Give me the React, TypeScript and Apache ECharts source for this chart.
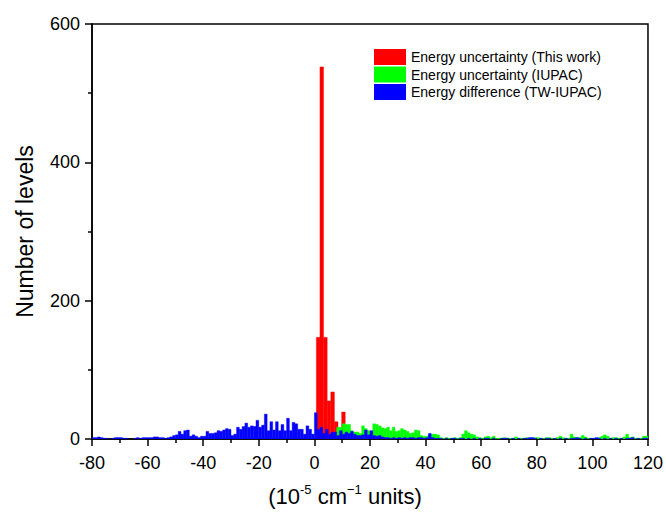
import React, { useEffect, useRef } from "react";
import * as echarts from "echarts";

// Histogram data (counts per bin)
const blueStart = -80; // Energy difference (TW-IUPAC), 1-unit bins
const blueBinWidth = 1;
const blueCounts = [
  2, 2, 3, 2, 1, 1, 0, 1, 2, 2,
  2, 1, 1, 0, 0, 1, 2, 1, 2, 2,
  2, 2, 3, 3, 2, 2, 1, 2, 3, 5,
  6, 11, 7, 12, 13, 4, 6, 4, 2, 4,
  4, 11, 8, 8, 9, 12, 11, 13, 15, 14,
  5, 7, 17, 14, 18, 23, 17, 19, 18, 27,
  17, 20, 36, 12, 25, 13, 25, 12, 21, 12,
  30, 12, 24, 22, 14, 14, 7, 19, 14, 7,
  38, 14, 17, 8, 14, 7, 10, 10, 5, 12,
  7, 10, 8, 11, 7, 5, 5, 6, 13, 6,
  12, 5, 4, 5, 3, 2, 2, 1, 2, 1,
  2, 1, 2, 1, 2, 2, 1, 2, 2, 1,
  2, 8, 2, 1, 1, 1, 0, 1, 0, 1,
  1, 0, 1, 1, 0, 1, 0, 1, 0, 1,
  0, 1, 1, 0, 1, 0, 0, 1, 1, 1,
  0, 1, 0, 1, 0, 1, 1, 2, 2, 1,
  0, 1, 0, 1, 1, 0, 1, 0, 1, 0,
  1, 0, 1, 1, 2, 1, 0, 1, 0, 1,
  1, 2, 1, 0, 1, 0, 1, 0, 1, 0,
  1, 0, 1, 1, 2, 0, 1, 0, 1, 1,
];

const greenStart = 6; // Energy uncertainty (IUPAC), 1-unit bins
const greenBinWidth = 1;
const greenCounts = [
  3, 8, 17, 17,
  22, 21, 21, 12, 10, 10, 8, 19, 15, 12,
  10, 22, 21, 19, 16, 15, 17, 12, 17, 11,
  12, 15, 13, 11, 8, 9, 13, 12, 5, 4,
  4, 6, 7, 7, 6, 2, 1, 2, 1, 1,
  2, 1, 2, 7, 12, 9, 7, 6, 3, 2,
  1, 3, 4, 2, 4, 1, 1, 1, 2, 1,
  1, 1, 3, 1, 1, 1, 2, 1, 1, 2,
  2, 1, 1, 2, 2, 1, 1, 2, 4, 2,
  1, 1, 7, 3, 2, 2, 5, 3, 1, 1,
  1, 1, 2, 4, 6, 4, 1, 2, 2, 1,
  1, 3, 7, 2, 3, 1, 1, 1, 4, 4,
];

const redStart = 0.7; // Energy uncertainty (This work)
const redBinWidth = 1.3;
const redCounts = [147, 538, 147, 55, 68, 25, 5, 39, 3];

const seriesNames = [
  "Energy uncertainty (This work)",
  "Energy uncertainty (IUPAC)",
  "Energy difference (TW-IUPAC)",
];
const seriesColors = ["#FF0000", "#00FF00", "#0000FF"];

const xMin = -80;
const xMax = 120;
const xInterval = 20;
const yMin = 0;
const yMax = 600;
const yInterval = 200;

const FONT = 'Arial, "Liberation Sans", sans-serif';

function toBins(start: number, width: number, counts: number[]) {
  return counts
    .map((c, i) => [start + i * width, start + (i + 1) * width, c])
    .filter((d) => d[2] > 0);
}

function makeRender(color: string) {
  return (_params: any, api: any) => {
    const x0 = api.value(0);
    const x1 = api.value(1);
    const y = api.value(2);
    const p0 = api.coord([x0, y]);
    const p1 = api.coord([x1, 0]);
    return {
      type: "rect",
      shape: { x: p0[0], y: p0[1], width: p1[0] - p0[0], height: p1[1] - p0[1] },
      style: { fill: color, stroke: color, lineWidth: 0.4 },
    };
  };
}

export default function App() {
  const ref = useRef<HTMLDivElement>(null);

  useEffect(() => {
    if (!ref.current) return;
    const chart = echarts.init(ref.current, undefined, { renderer: "svg" });
    const datasets = [
      toBins(redStart, redBinWidth, redCounts),
      toBins(greenStart, greenBinWidth, greenCounts),
      toBins(blueStart, blueBinWidth, blueCounts),
    ];
    chart.setOption({
      animation: false,
      backgroundColor: "#ffffff",
      textStyle: { fontFamily: FONT },
      grid: {
        left: 92,
        right: 16,
        top: 24,
        bottom: 72,
        show: true,
        borderColor: "#000",
        borderWidth: 1.5,
        backgroundColor: "transparent",
      },
      legend: {
        orient: "vertical",
        left: 374,
        top: 49,
        padding: 0,
        itemWidth: 32,
        itemHeight: 16,
        itemGap: 1.5,
        textStyle: { fontFamily: FONT, fontSize: 14, color: "#000" },
        data: seriesNames.map((n) => ({ name: n, icon: "rect" })),
      },
      xAxis: {
        type: "value",
        min: xMin,
        max: xMax,
        interval: xInterval,
        name: "{n|(10}{sup|-5}{n| cm}{sup|−1}{n| units)}",
        nameLocation: "middle",
        nameGap: 44,
        nameTextStyle: {
          fontFamily: FONT,
          fontSize: 22,
          color: "#000",
          padding: [0, 50, 0, 0],
          rich: {
            n: { fontFamily: FONT, fontSize: 22, lineHeight: 26, color: "#000" },
            sup: { fontFamily: FONT, fontSize: 13, lineHeight: 13, color: "#000", verticalAlign: "top" },
          },
        },
        axisLine: { show: true, onZero: false, lineStyle: { color: "#000", width: 1.5 } },
        axisTick: { show: true, length: 7, lineStyle: { color: "#000", width: 1.5 } },
        minorTick: { show: true, splitNumber: 2, length: 4, lineStyle: { color: "#000", width: 1.5 } },
        axisLabel: { fontFamily: FONT, fontSize: 18, color: "#000", margin: 15 },
        splitLine: { show: false },
      },
      yAxis: {
        type: "value",
        min: yMin,
        max: yMax,
        interval: yInterval,
        name: "Number of levels",
        nameLocation: "middle",
        nameGap: 56,
        nameTextStyle: { fontFamily: FONT, fontSize: 23, color: "#000" },
        axisLine: { show: true, onZero: false, lineStyle: { color: "#000", width: 1.5 } },
        axisTick: { show: true, length: 7, lineStyle: { color: "#000", width: 1.5 } },
        minorTick: { show: true, splitNumber: 2, length: 4, lineStyle: { color: "#000", width: 1.5 } },
        axisLabel: { fontFamily: FONT, fontSize: 18, color: "#000", margin: 12 },
        splitLine: { show: false },
      },
      series: seriesNames.map((name, i) => ({
        name,
        type: "custom",
        renderItem: makeRender(seriesColors[i]),
        itemStyle: { color: seriesColors[i] },
        encode: { x: [0, 1], y: 2 },
        data: datasets[i],
        clip: true,
      })),
    });
    return () => chart.dispose();
  }, []);

  return (
    <div
      ref={ref}
      style={{ position: "absolute", left: 0, top: 0, width: 666, height: 512, background: "#fff" }}
    />
  );
}
